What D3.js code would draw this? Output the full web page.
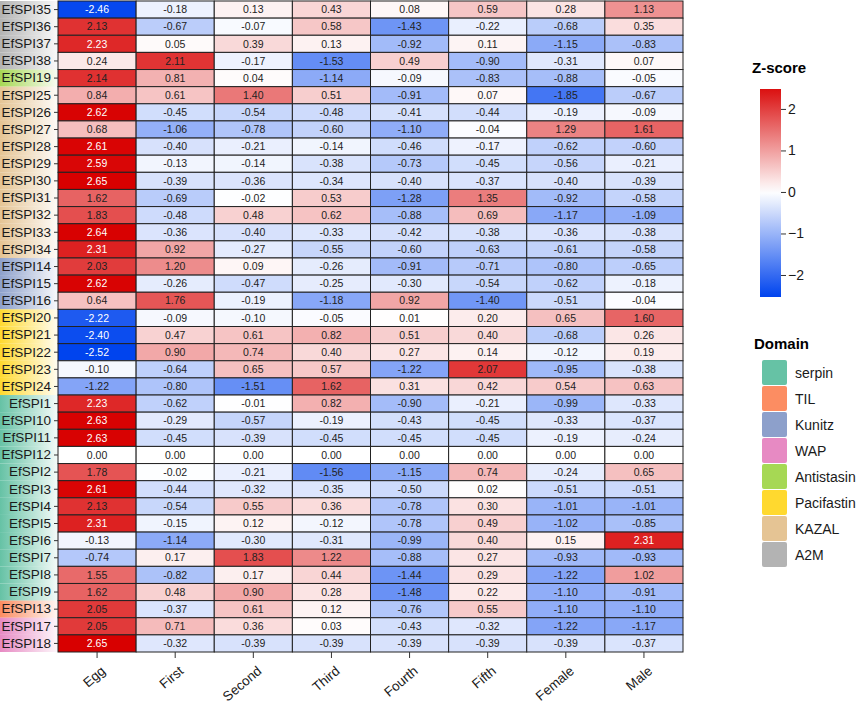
<!DOCTYPE html>
<html>
<head>
<meta charset="utf-8">
<script src="https://cdn.jsdelivr.net/npm/d3@7"></script>
<style>
  body { margin: 0; background: #fff; }
  svg { display: block; font-family: "Liberation Sans", Arial, sans-serif; }
</style>
</head>
<body>
<svg id="chart" width="858" height="704"></svg>
<script>
// stages (columns)
var stages = ["Egg", "First", "Second", "Third", "Fourth", "Fifth", "Female", "Male"];

// genes (rows), top to bottom
var genes = ["EfSPI35", "EfSPI36", "EfSPI37", "EfSPI38", "EfSPI19", "EfSPI25", "EfSPI26", "EfSPI27",
  "EfSPI28", "EfSPI29", "EfSPI30", "EfSPI31", "EfSPI32", "EfSPI33", "EfSPI34", "EfSPI14", "EfSPI15",
  "EfSPI16", "EfSPI20", "EfSPI21", "EfSPI22", "EfSPI23", "EfSPI24", "EfSPI1", "EfSPI10", "EfSPI11",
  "EfSPI12", "EfSPI2", "EfSPI3", "EfSPI4", "EfSPI5", "EfSPI6", "EfSPI7", "EfSPI8", "EfSPI9",
  "EfSPI13", "EfSPI17", "EfSPI18"];

// domain of each gene, same order as genes
var geneDomain = ["A2M", "A2M", "A2M", "A2M", "Antistasin", "KAZAL", "KAZAL", "KAZAL",
  "KAZAL", "KAZAL", "KAZAL", "KAZAL", "KAZAL", "KAZAL", "KAZAL", "Kunitz", "Kunitz",
  "Kunitz", "Pacifastin", "Pacifastin", "Pacifastin", "Pacifastin", "Pacifastin", "serpin", "serpin", "serpin",
  "serpin", "serpin", "serpin", "serpin", "serpin", "serpin", "serpin", "serpin", "serpin",
  "TIL", "WAP", "WAP"];

// z-scores, one row per gene
var zscores = [
  [-2.46, -0.18, 0.13, 0.43, 0.08, 0.59, 0.28, 1.13],
  [2.13, -0.67, -0.07, 0.58, -1.43, -0.22, -0.68, 0.35],
  [2.23, 0.05, 0.39, 0.13, -0.92, 0.11, -1.15, -0.83],
  [0.24, 2.11, -0.17, -1.53, 0.49, -0.90, -0.31, 0.07],
  [2.14, 0.81, 0.04, -1.14, -0.09, -0.83, -0.88, -0.05],
  [0.84, 0.61, 1.40, 0.51, -0.91, 0.07, -1.85, -0.67],
  [2.62, -0.45, -0.54, -0.48, -0.41, -0.44, -0.19, -0.09],
  [0.68, -1.06, -0.78, -0.60, -1.10, -0.04, 1.29, 1.61],
  [2.61, -0.40, -0.21, -0.14, -0.46, -0.17, -0.62, -0.60],
  [2.59, -0.13, -0.14, -0.38, -0.73, -0.45, -0.56, -0.21],
  [2.65, -0.39, -0.36, -0.34, -0.40, -0.37, -0.40, -0.39],
  [1.62, -0.69, -0.02, 0.53, -1.28, 1.35, -0.92, -0.58],
  [1.83, -0.48, 0.48, 0.62, -0.88, 0.69, -1.17, -1.09],
  [2.64, -0.36, -0.40, -0.33, -0.42, -0.38, -0.36, -0.38],
  [2.31, 0.92, -0.27, -0.55, -0.60, -0.63, -0.61, -0.58],
  [2.03, 1.20, 0.09, -0.26, -0.91, -0.71, -0.80, -0.65],
  [2.62, -0.26, -0.47, -0.25, -0.30, -0.54, -0.62, -0.18],
  [0.64, 1.76, -0.19, -1.18, 0.92, -1.40, -0.51, -0.04],
  [-2.22, -0.09, -0.10, -0.05, 0.01, 0.20, 0.65, 1.60],
  [-2.40, 0.47, 0.61, 0.82, 0.51, 0.40, -0.68, 0.26],
  [-2.52, 0.90, 0.74, 0.40, 0.27, 0.14, -0.12, 0.19],
  [-0.10, -0.64, 0.65, 0.57, -1.22, 2.07, -0.95, -0.38],
  [-1.22, -0.80, -1.51, 1.62, 0.31, 0.42, 0.54, 0.63],
  [2.23, -0.62, -0.01, 0.82, -0.90, -0.21, -0.99, -0.33],
  [2.63, -0.29, -0.57, -0.19, -0.43, -0.45, -0.33, -0.37],
  [2.63, -0.45, -0.39, -0.45, -0.45, -0.45, -0.19, -0.24],
  [0.00, 0.00, 0.00, 0.00, 0.00, 0.00, 0.00, 0.00],
  [1.78, -0.02, -0.21, -1.56, -1.15, 0.74, -0.24, 0.65],
  [2.61, -0.44, -0.32, -0.35, -0.50, 0.02, -0.51, -0.51],
  [2.13, -0.54, 0.55, 0.36, -0.78, 0.30, -1.01, -1.01],
  [2.31, -0.15, 0.12, -0.12, -0.78, 0.49, -1.02, -0.85],
  [-0.13, -1.14, -0.30, -0.31, -0.99, 0.40, 0.15, 2.31],
  [-0.74, 0.17, 1.83, 1.22, -0.88, 0.27, -0.93, -0.93],
  [1.55, -0.82, 0.17, 0.44, -1.44, 0.29, -1.22, 1.02],
  [1.62, 0.48, 0.90, 0.28, -1.48, 0.22, -1.10, -0.91],
  [2.05, -0.37, 0.61, 0.12, -0.76, 0.55, -1.10, -1.10],
  [2.05, 0.71, 0.36, 0.03, -0.43, -0.32, -1.22, -1.17],
  [2.65, -0.32, -0.39, -0.39, -0.39, -0.39, -0.39, -0.37]
];

// legend entries
var domains = ["serpin", "TIL", "Kunitz", "WAP", "Antistasin", "Pacifastin", "KAZAL", "A2M"];
var domainColors = ["#66C2A5", "#FC8D62", "#8DA0CB", "#E78AC3", "#A6D854", "#FFD92F", "#E5C494", "#B3B3B3"];
var zTicks = [-2, -1, 0, 1, 2];

var svg = d3.select("#chart");

var x = d3.scaleBand().domain(stages).range([58, 683]);
var y = d3.scaleBand().domain(genes).range([1, 652]);

var fill = d3.scaleLinear()
    .domain([-2.52, 0, 2.65])
    .range(["#0044EE", "#ffffff", "#D80000"])
    .interpolate(d3.interpolateRgb);

var domainColor = d3.scaleOrdinal().domain(domains).range(domainColors);

// row label backgrounds, colour fading to white
var defs = svg.append("defs");
domains.forEach(function(d, i) {
    var g = defs.append("linearGradient")
        .attr("id", "grad" + i)
        .attr("x1", "0%").attr("x2", "100%");
    g.append("stop").attr("offset", "0%").attr("stop-color", domainColors[i]);
    g.append("stop").attr("offset", "100%").attr("stop-color", domainColors[i]).attr("stop-opacity", 0.08);
});

svg.append("g").selectAll("rect")
    .data(genes)
    .enter().append("rect")
    .attr("x", 0)
    .attr("y", function(d) { return y(d); })
    .attr("width", 57)
    .attr("height", y.bandwidth())
    .attr("fill", function(d, i) { return "url(#grad" + domains.indexOf(geneDomain[i]) + ")"; });

// cells
var cells = [];
zscores.forEach(function(row, i) {
    row.forEach(function(v, j) {
        cells.push({ gene: genes[i], stage: stages[j], value: v });
    });
});

svg.append("g").selectAll("rect")
    .data(cells)
    .enter().append("rect")
    .attr("x", function(d) { return x(d.stage); })
    .attr("y", function(d) { return y(d.gene); })
    .attr("width", x.bandwidth())
    .attr("height", y.bandwidth())
    .attr("fill", function(d) { return fill(d.value); })
    .attr("stroke", "#222")
    .attr("stroke-width", 1);

svg.append("g").selectAll("text")
    .data(cells)
    .enter().append("text")
    .attr("x", function(d) { return x(d.stage) + x.bandwidth() / 2; })
    .attr("y", function(d) { return y(d.gene) + y.bandwidth() / 2; })
    .attr("dy", "0.35em")
    .attr("text-anchor", "middle")
    .attr("font-size", 10.5)
    .attr("fill", function(d) { return Math.abs(d.value) > 2.2 ? "#fff" : "#222"; })
    .text(function(d) { return d.value.toFixed(2); });

// axes
var yAxis = svg.append("g")
    .attr("transform", "translate(58,0)")
    .call(d3.axisLeft(y).tickSize(4).tickPadding(3));
yAxis.select(".domain").remove();
yAxis.selectAll("text").attr("font-size", 13.5).attr("fill", "#1a1a1a").attr("font-family", null);
yAxis.selectAll("line").attr("stroke", "#333");

var xAxis = svg.append("g")
    .attr("transform", "translate(0,652)")
    .call(d3.axisBottom(x).tickSize(6));
xAxis.select(".domain").remove();
xAxis.selectAll("line").attr("stroke", "#333");
xAxis.selectAll("text")
    .attr("font-size", 13.5)
    .attr("font-family", null)
    .attr("fill", "#1a1a1a")
    .attr("text-anchor", "end")
    .attr("y", 0)
    .attr("dy", "0.72em")
    .attr("transform", "translate(3,13) rotate(-40)");

// Z-score colorbar
var zScale = d3.scaleLinear().domain([-2.53, 2.48]).range([297, 89]);
var barGrad = defs.append("linearGradient")
    .attr("id", "zbar")
    .attr("x1", "0%").attr("x2", "0%").attr("y1", "100%").attr("y2", "0%");
d3.range(0, 1.0001, 0.05).forEach(function(t) {
    var v = -2.53 + t * (2.48 + 2.53);
    barGrad.append("stop").attr("offset", (t * 100) + "%").attr("stop-color", fill(v));
});

svg.append("text")
    .attr("x", 752).attr("y", 73)
    .attr("font-size", 15).attr("font-weight", "bold")
    .text("Z-score");

svg.append("rect")
    .attr("x", 760).attr("y", 89)
    .attr("width", 21).attr("height", 208)
    .attr("fill", "url(#zbar)");

var zAxis = svg.append("g")
    .attr("transform", "translate(781,0)")
    .call(d3.axisRight(zScale).tickValues(zTicks).tickSize(5).tickPadding(2).tickFormat(d3.format("d")));
zAxis.select(".domain").remove();
zAxis.selectAll("line").attr("stroke", "#333");
zAxis.selectAll("text").attr("font-size", 14).attr("font-family", null).attr("fill", "#1a1a1a");

// Domain legend
svg.append("text")
    .attr("x", 754).attr("y", 349)
    .attr("font-size", 15).attr("font-weight", "bold")
    .text("Domain");

var key = svg.append("g").selectAll("g")
    .data(domains)
    .enter().append("g")
    .attr("transform", function(d, i) { return "translate(762," + (360 + i * 26) + ")"; });
key.append("rect")
    .attr("width", 25).attr("height", 25)
    .attr("rx", 2)
    .attr("fill", function(d) { return domainColor(d); });
key.append("text")
    .attr("x", 33).attr("y", 13).attr("dy", "0.35em")
    .attr("font-size", 14).attr("fill", "#1a1a1a")
    .text(function(d) { return d; });
</script>
</body>
</html>
